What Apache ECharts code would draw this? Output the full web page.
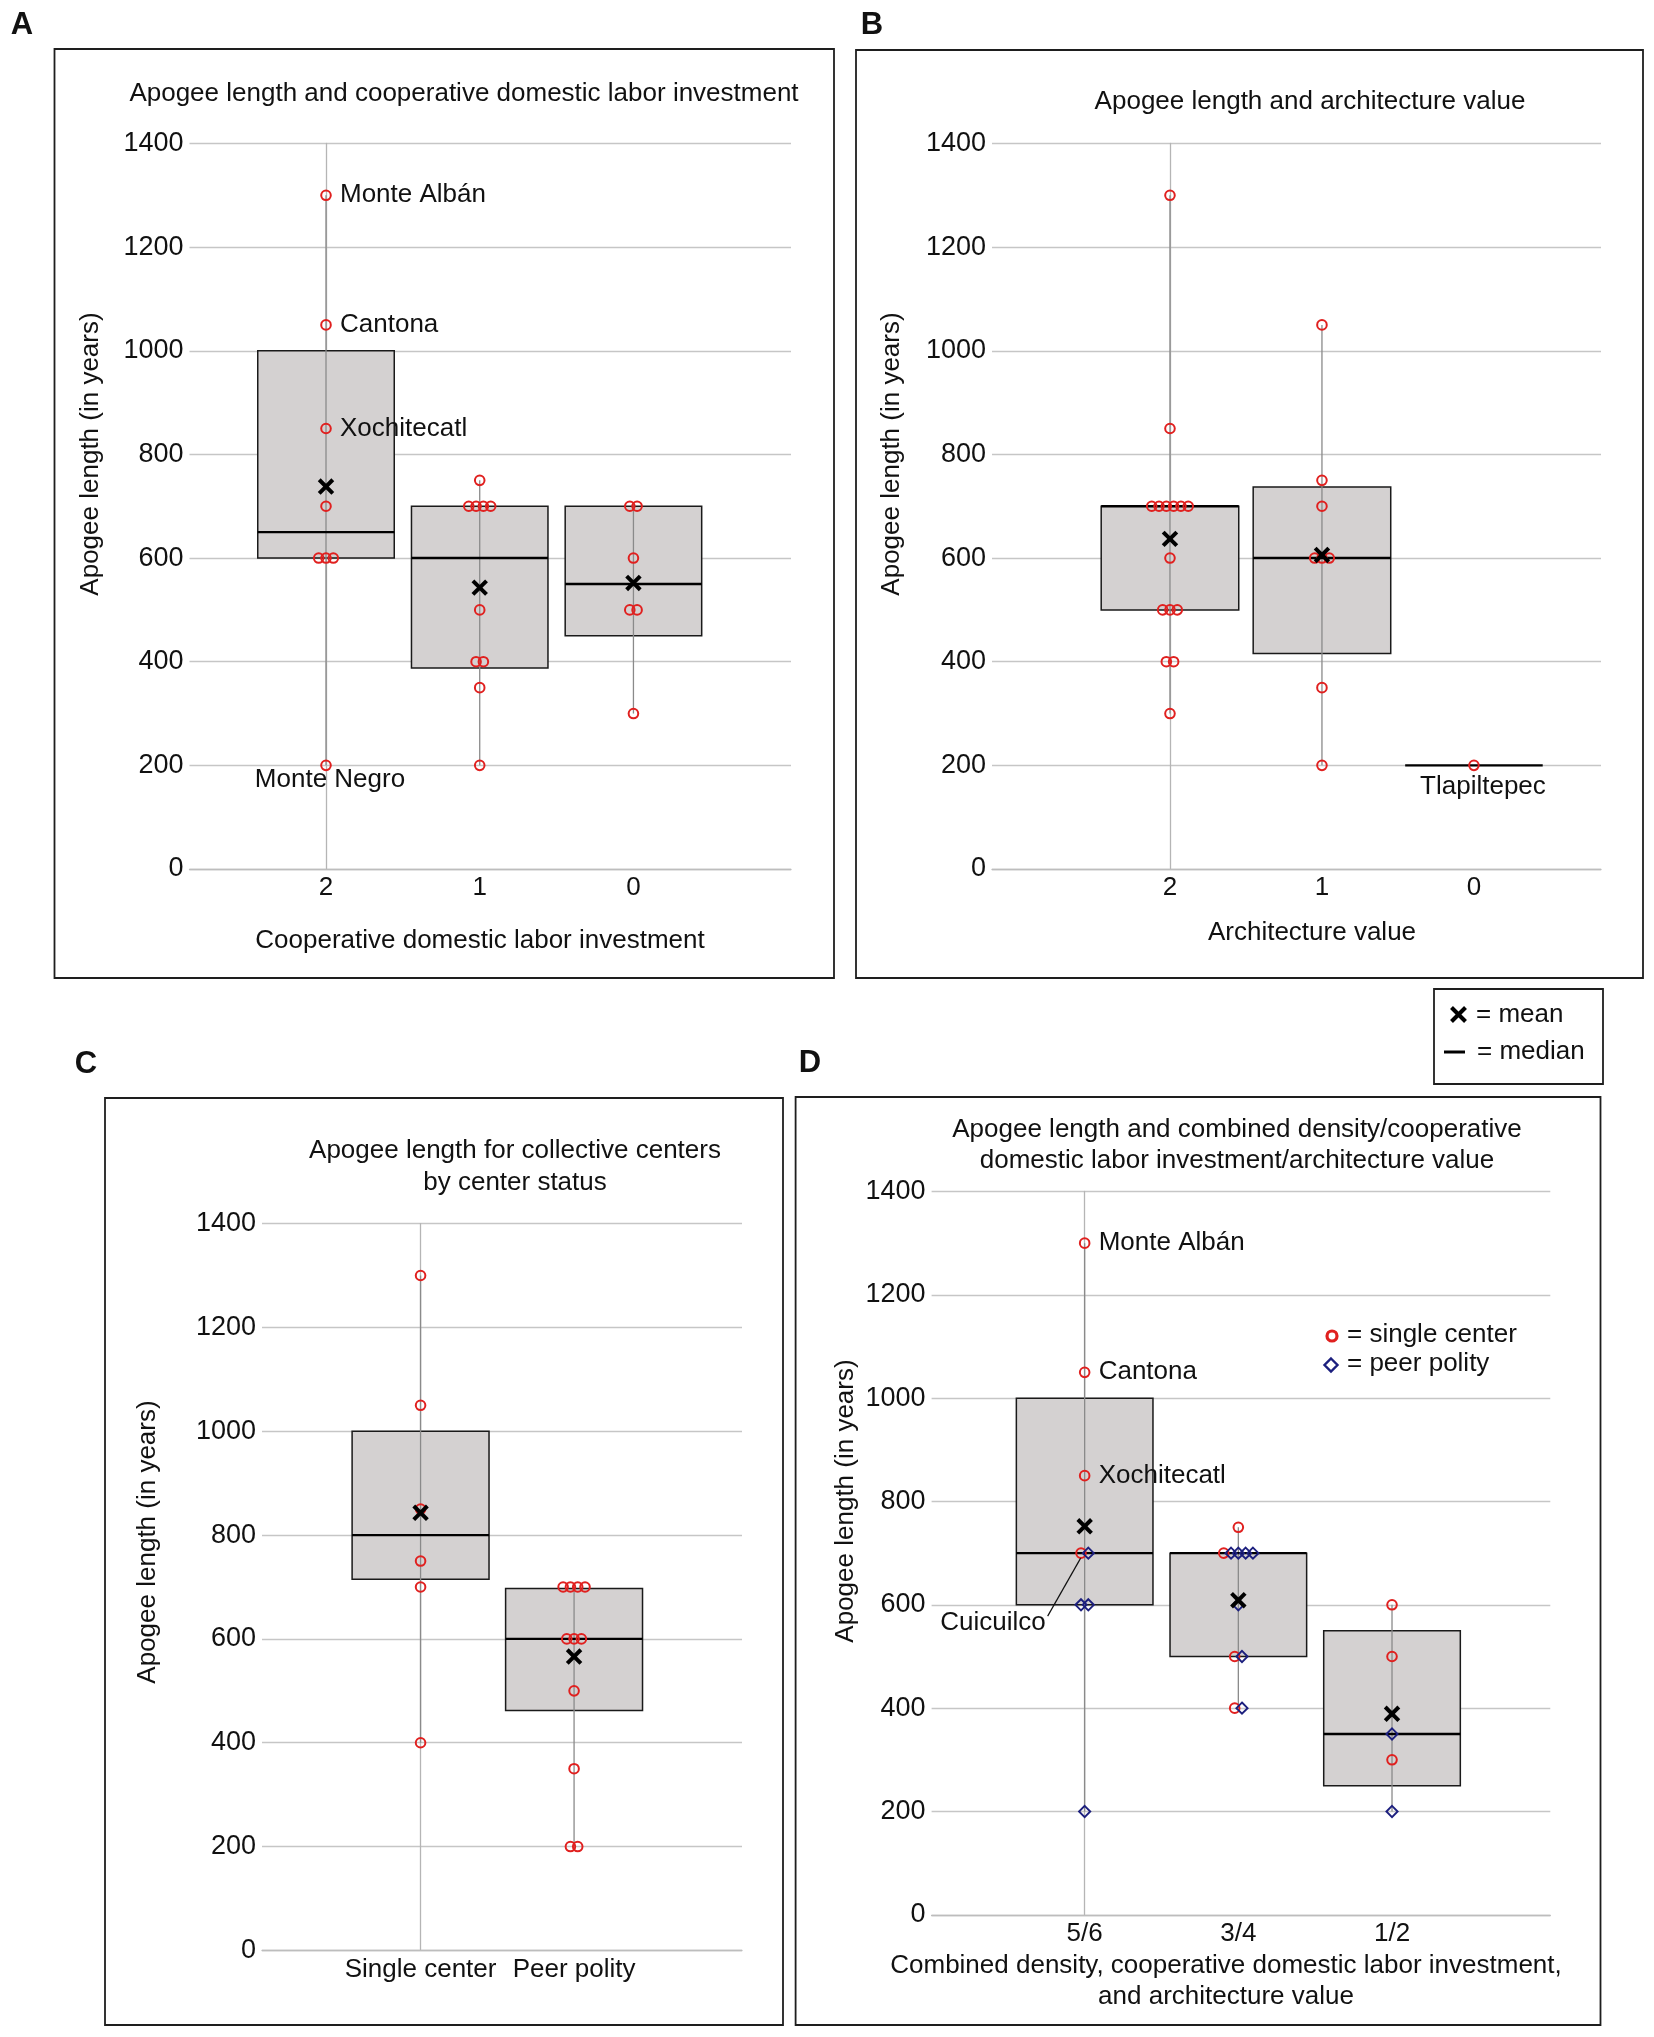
<!DOCTYPE html>
<html><head><meta charset="utf-8">
<script src="https://cdn.jsdelivr.net/npm/echarts@6/dist/echarts.min.js"></script>
<style>html,body{margin:0;padding:0;background:#fff}#c{width:1654px;height:2037px}</style>
</head><body><div id="c"></div>
<script>
// ---------------- DATA ----------------
// Panel A: Apogee length vs cooperative domestic labor investment
const catsA = ['2', '1', '0'];
const pointsA = [
  [1300, 1050, 850, 700, 600, 600, 600, 200],
  [750, 700, 700, 700, 700, 500, 400, 400, 350, 200],
  [700, 700, 600, 500, 500, 300]
];
const boxA = [[600, 650, 1000], [388, 600, 700], [450, 550, 700]]; // q1, median, q3
const meanA = [738, 543, 552];
const labelsA = [['Monte Albán', 0, 1300], ['Cantona', 0, 1050], ['Xochitecatl', 0, 850], ['Monte Negro', 0, 200]];

// Panel B: Apogee length vs architecture value
const catsB = ['2', '1', '0'];
const pointsB = [
  [1300, 850, 700, 700, 700, 700, 700, 700, 600, 500, 500, 500, 400, 400, 300],
  [1050, 750, 700, 600, 600, 600, 350, 200],
  [200]
];
const boxB = [[500, 700, 700], [416, 600, 737], [200, 200, 200]];
const meanB = [637, 606, null];
const labelsB = [['Tlapiltepec', 2, 200]];

// Panel C: Apogee length for collective centers by center status
const catsC = ['Single center', 'Peer polity'];
const pointsC = [
  [1300, 1050, 850, 750, 700, 400],
  [700, 700, 700, 700, 600, 600, 600, 500, 350, 200, 200]
];
const boxC = [[715, 800, 1000], [462, 600, 697]];
const meanC = [843, 566];

// Panel D: combined density / cooperative labor / architecture value
const catsD = ['5/6', '3/4', '1/2'];
const singleD = [[1300, 1050, 850, 700], [750, 700, 500, 400], [600, 500, 300]];
const peerD = [[700, 600, 600, 200], [700, 700, 700, 700, 600, 500, 400], [350, 200]];
const boxD = [[600, 700, 1000], [500, 700, 700], [250, 350, 550]];
const meanD = [752, 609, 389];
const labelsD = [['Monte Albán', 0, 1300], ['Cantona', 0, 1050], ['Xochitecatl', 0, 850], ['Cuicuilco', 0, 700]];

const yTicks = [0, 200, 400, 600, 800, 1000, 1200, 1400];

// ---------------- STYLE ----------------
const FONT = '"Liberation Sans", Arial, Helvetica, sans-serif';
const RED = '#e0201f', NAVY = '#1c1f7e', BOXFILL = '#d4d1d1', TXT = '#111';
const STEP = 7.3;

const panels = [
  { cats: catsA, groups: [pointsA], box: boxA, mean: meanA, labels: labelsA,
    grid: { left: 189.5, top: 143.5, width: 601.5, height: 725.5 }, min: -0.888, max: 3.025, bw: 0.888 },
  { cats: catsB, groups: [pointsB], box: boxB, mean: meanB, labels: labelsB,
    grid: { left: 992, top: 143.5, width: 609, height: 725.5 }, min: -1.171, max: 2.836, bw: 0.905 },
  { cats: catsC, groups: [pointsC], box: boxC, mean: meanC, labels: [],
    grid: { left: 262, top: 1223.6, width: 480, height: 726.8 }, min: -1.033, max: 2.094, bw: 0.892 },
  { cats: catsD, groups: [singleD, peerD], box: boxD, mean: meanD, labels: labelsD,
    grid: { left: 931.6, top: 1191.5, width: 618.7, height: 723.3 }, min: -0.996, max: 3.03, bw: 0.889 }
];

const labelPlace = {
  'Monte Negro': { dx: 4, dy: 14, align: 'center' },
  'Tlapiltepec': { dx: 9, dy: 21, align: 'center' },
  'Cuicuilco': { leader: true }
};

const grids = [], xAxes = [], yAxes = [], series = [];

panels.forEach((P, pi) => {
  grids.push(Object.assign({ outerBoundsMode: 'none', containLabel: false }, P.grid));
  xAxes.push({
    gridIndex: pi, type: 'value', min: P.min, max: P.max,
    splitLine: { show: false },
    axisLine: { show: true, lineStyle: { color: '#bdbdbd', width: 1.3 } },
    axisTick: { show: false },
    axisLabel: {
      customValues: P.cats.map((c, i) => i),
      formatter: v => P.cats[Math.round(v)] || '',
      fontFamily: FONT, fontSize: 26, color: TXT, margin: 6
    }
  });
  yAxes.push({
    gridIndex: pi, type: 'value', min: yTicks[0], max: yTicks[yTicks.length - 1], interval: yTicks[1] - yTicks[0],
    axisLine: { show: true, lineStyle: { color: '#b5b5b5', width: 1.3 } },
    axisTick: { show: false },
    splitLine: { show: true, lineStyle: { color: '#c6c6c6', width: 1.3 } },
    axisLabel: { fontFamily: FONT, fontSize: 27, color: TXT, margin: 6, formatter: v => String(v) }
  });

  // boxes + whiskers + medians
  const boxData = P.box.map((b, i) => {
    const all = [];
    P.groups.forEach(g => g[i].forEach(v => all.push(v)));
    return [i, b[0], b[1], b[2], Math.min(...all), Math.max(...all)];
  });
  series.push({
    type: 'custom', xAxisIndex: pi, yAxisIndex: pi, z: 3, silent: true,
    encode: { x: 0, y: [1, 2, 3, 4, 5] }, data: boxData,
    renderItem: (params, api) => {
      const i = api.value(0), q1 = api.value(1), md = api.value(2), q3 = api.value(3);
      const a = api.coord([i - P.bw / 2, q3]), b = api.coord([i + P.bw / 2, q1]);
      const m = api.coord([i, md]);
      const lo = api.coord([i, api.value(4)]), hi = api.coord([i, api.value(5)]);
      const ch = [];
      if (q3 > q1) ch.push({ type: 'rect', shape: { x: a[0], y: a[1], width: b[0] - a[0], height: b[1] - a[1] },
        style: { fill: BOXFILL, stroke: '#1a1a1a', lineWidth: 1.5 } });
      ch.push({ type: 'line', shape: { x1: lo[0], y1: lo[1], x2: hi[0], y2: hi[1] }, style: { stroke: '#8a8a8a', lineWidth: 1.3 } });
      ch.push({ type: 'line', shape: { x1: a[0], y1: m[1], x2: b[0], y2: m[1] }, style: { stroke: '#000', lineWidth: 2.4 } });
      return { type: 'group', children: ch };
    }
  });

  // points with side-by-side offsets for equal values
  const pts = [];
  P.cats.forEach((c, i) => {
    const list = [];
    P.groups.forEach((g, t) => g[i].forEach(v => list.push([v, t])));
    const cnt = {}, seen = {};
    list.forEach(([v]) => { cnt[v] = (cnt[v] || 0) + 1; });
    list.forEach(([v, t]) => {
      const k = seen[v] || 0; seen[v] = k + 1;
      pts.push([i, v, t, (k - (cnt[v] - 1) / 2) * STEP]);
    });
  });
  series.push({
    type: 'custom', xAxisIndex: pi, yAxisIndex: pi, z: 5, silent: true,
    encode: { x: 0, y: 1 }, data: pts,
    renderItem: (params, api) => {
      const p = api.coord([api.value(0), api.value(1)]);
      const x = p[0] + api.value(3), y = p[1];
      if (api.value(2) === 0)
        return { type: 'circle', shape: { cx: x, cy: y, r: 4.8 }, style: { fill: 'none', stroke: RED, lineWidth: 2 } };
      return { type: 'polygon', shape: { points: [[x, y - 5.6], [x + 5.6, y], [x, y + 5.6], [x - 5.6, y]] },
        style: { fill: 'none', stroke: NAVY, lineWidth: 1.9 } };
    }
  });

  // means
  const meanData = P.mean.map((m, i) => [i, m]).filter(d => d[1] !== null);
  series.push({
    type: 'custom', xAxisIndex: pi, yAxisIndex: pi, z: 6, silent: true,
    encode: { x: 0, y: 1 }, data: meanData,
    renderItem: (params, api) => {
      const p = api.coord([api.value(0), api.value(1)]);
      const s = 6.8;
      return { type: 'group', children: [
        { type: 'line', shape: { x1: p[0] - s, y1: p[1] - s, x2: p[0] + s, y2: p[1] + s }, style: { stroke: '#000', lineWidth: 4 } },
        { type: 'line', shape: { x1: p[0] - s, y1: p[1] + s, x2: p[0] + s, y2: p[1] - s }, style: { stroke: '#000', lineWidth: 4 } }
      ] };
    }
  });

  // site labels
  if (P.labels.length) {
    series.push({
      type: 'custom', xAxisIndex: pi, yAxisIndex: pi, z: 7, silent: true,
      encode: { x: 1, y: 2 }, data: P.labels,
      renderItem: (params, api) => {
        const name = P.labels[params.dataIndex][0];
        const p = api.coord([api.value(1), api.value(2)]);
        const pl = labelPlace[name];
        const font = '26px ' + FONT;
        if (pl && pl.leader) {
          return { type: 'group', children: [
            { type: 'line', shape: { x1: p[0] - 4, y1: p[1] + 5, x2: p[0] - 37, y2: p[1] + 63 }, style: { stroke: '#111', lineWidth: 1.2 } },
            { type: 'text', x: p[0] - 39, y: p[1] + 70, style: { text: name, font, fill: TXT, textAlign: 'right', textVerticalAlign: 'middle' } }
          ] };
        }
        if (pl) return { type: 'text', x: p[0] + pl.dx, y: p[1] + pl.dy,
          style: { text: name, font, fill: TXT, textAlign: pl.align, textVerticalAlign: 'middle' } };
        return { type: 'text', x: p[0] + 14, y: p[1], style: { text: name, font, fill: TXT, textAlign: 'left', textVerticalAlign: 'middle' } };
      }
    });
  }
});

// ---------------- decorations ----------------
function txt(text, x, y, opt) {
  opt = opt || {};
  return { type: 'text', x, y, rotation: opt.rot || 0, z: 10,
    style: { text, fill: TXT, font: (opt.weight || 'normal') + ' ' + (opt.size || 26) + 'px ' + FONT,
      textAlign: opt.align || 'center', textVerticalAlign: 'middle' } };
}
function frame(x1, y1, x2, y2) {
  return { type: 'rect', shape: { x: x1, y: y1, width: x2 - x1, height: y2 - y1 }, z: 1,
    style: { fill: 'none', stroke: '#1e1e1e', lineWidth: 1.8 } };
}
const gfx = [
  frame(54.5, 49, 834, 978), frame(856, 50, 1643, 978), frame(105, 1098, 783, 2025), frame(795.6, 1097, 1600.5, 2025),
  frame(1434, 989, 1603, 1084),
  txt('A', 22, 25, { weight: 'bold', size: 31 }),
  txt('B', 872, 25, { weight: 'bold', size: 31 }),
  txt('C', 86, 1064, { weight: 'bold', size: 31 }),
  txt('D', 810, 1063, { weight: 'bold', size: 31 }),
  txt('Apogee length and cooperative domestic labor investment', 464, 94),
  txt('Apogee length and architecture value', 1310, 102),
  txt('Apogee length for collective centers', 515, 1151),
  txt('by center status', 515, 1182.5),
  txt('Apogee length and combined density/cooperative', 1237, 1130),
  txt('domestic labor investment/architecture value', 1237, 1161),
  txt('Cooperative domestic labor investment', 480, 940.6),
  txt('Architecture value', 1312, 933),
  txt('Combined density, cooperative domestic labor investment,', 1226, 1966),
  txt('and architecture value', 1226, 1997),
  txt('Apogee length (in years)', 91, 454, { rot: Math.PI / 2 }),
  txt('Apogee length (in years)', 892, 454, { rot: Math.PI / 2 }),
  txt('Apogee length (in years)', 148, 1542, { rot: Math.PI / 2 }),
  txt('Apogee length (in years)', 846, 1501, { rot: Math.PI / 2 }),
  // outer legend
  { type: 'line', z: 10, shape: { x1: 1451.5, y1: 1007.5, x2: 1465.5, y2: 1021.5 }, style: { stroke: '#000', lineWidth: 4 } },
  { type: 'line', z: 10, shape: { x1: 1451.5, y1: 1021.5, x2: 1465.5, y2: 1007.5 }, style: { stroke: '#000', lineWidth: 4 } },
  txt('= mean', 1476, 1015, { align: 'left' }),
  { type: 'line', z: 10, shape: { x1: 1444, y1: 1052, x2: 1465, y2: 1052 }, style: { stroke: '#000', lineWidth: 3 } },
  txt('= median', 1477, 1052, { align: 'left' }),
  // panel D legend
  { type: 'circle', z: 10, shape: { cx: 1332, cy: 1336, r: 5 }, style: { fill: 'none', stroke: RED, lineWidth: 3.2 } },
  txt('= single center', 1347, 1335, { align: 'left' }),
  { type: 'polygon', z: 10, shape: { points: [[1331, 1358.5], [1337.5, 1365], [1331, 1371.5], [1324.5, 1365]] }, style: { fill: 'none', stroke: NAVY, lineWidth: 2.4 } },
  txt('= peer polity', 1347, 1364, { align: 'left' })
];

const chart = echarts.init(document.getElementById('c'), null, { renderer: 'canvas', width: 1654, height: 2037 });
chart.setOption({
  backgroundColor: '#fff', animation: false,
  textStyle: { fontFamily: FONT },
  grid: grids, xAxis: xAxes, yAxis: yAxes, series, graphic: { elements: gfx }
});
</script></body></html>
